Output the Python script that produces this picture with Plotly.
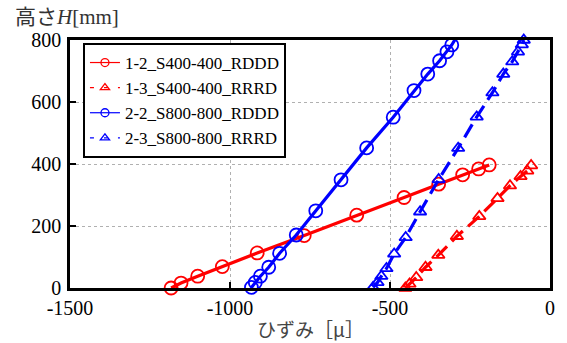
import plotly.graph_objects as go

# Strain (micro) vs. height H (mm) for each specimen
s12_strain = [-1184, -1153, -1101, -1024, -915, -768, -604, -456, -348, -273, -223, -190]
s12_height = [0, 16, 38, 69, 113, 169, 235, 292, 335, 365, 384, 397]

s13_strain = [-452, -439, -418, -389, -349, -291, -221, -164, -125, -92, -71, -59]
s13_height = [0, 13, 34, 67, 106, 167, 231, 289, 330, 360, 378, 395]

s22_strain = [-933, -921, -905, -879, -845, -793, -732, -653, -573, -490, -425, -382, -345, -322, -307, -297]
s22_height = [2, 18, 38, 67, 112, 171, 249, 349, 452, 551, 637, 690, 733, 762, 784, 801]

s23_strain = [-553, -539, -527, -511, -487, -451, -406, -348, -287, -229, -180, -146, -118, -100, -88, -82]
s23_height = [2, 18, 38, 63, 110, 163, 246, 350, 451, 552, 630, 690, 730, 762, 785, 800]

names = ["1-2_S400-400_RDDD", "1-3_S400-400_RRRD", "2-2_S800-800_RDDD", "2-3_S800-800_RRRD"]

x_tickvals = [-1500, -1000, -500, 0]
x_ticktext = ["-1500", "-1000", "-500", "0"]
y_tickvals = [0, 200, 400, 600, 800]
y_ticktext = ["0", "200", "400", "600", "800"]

RED = "#ff0000"
BLUE = "#0000ff"
SERIF = "Liberation Serif"
CJK = "Liberation Serif, 'Noto Sans CJK JP'"

series = [
    (s12_strain, s12_height, names[0], RED, "circle-open", "solid", 13),
    (s13_strain, s13_height, names[1], RED, "triangle-up-open", "15px,7px", 11),
    (s22_strain, s22_height, names[2], BLUE, "circle-open", "solid", 13),
    (s23_strain, s23_height, names[3], BLUE, "triangle-up-open", "15px,7px", 11),
]

fig = go.Figure()

for xs, ys, name, color, symbol, dash, size in series:
    fig.add_trace(go.Scatter(
        x=xs, y=ys, mode="lines+markers", name=name, showlegend=False,
        line=dict(color=color, width=3.2, dash=dash),
        marker=dict(symbol=symbol, size=size, color=color,
                    line=dict(color=color, width=1.8)),
        cliponaxis=False,
    ))

# Legend entries with smaller symbols
for xs, ys, name, color, symbol, dash, size in series:
    fig.add_trace(go.Scatter(
        x=[None], y=[None], mode="lines+markers", name=name,
        line=dict(color=color, width=1.2, dash="solid" if dash == "solid" else "4px,10px"),
        marker=dict(symbol=symbol, size=8, color=color,
                    line=dict(color=color, width=1.3)),
    ))

axis_common = dict(
    showline=True, linecolor="black", linewidth=2.6, mirror=True,
    ticks="inside", ticklen=6, tickwidth=2, tickcolor="black",
    showgrid=True, gridcolor="#b0b0b0", griddash="dot", gridwidth=1,
    zeroline=False,
    tickfont=dict(family=SERIF, size=20, color="black"),
)

fig.update_xaxes(range=[-1500, 0], tickmode="array", tickvals=x_tickvals,
                 ticktext=x_ticktext, **axis_common)
fig.update_yaxes(range=[0, 800], tickmode="array", tickvals=y_tickvals,
                 ticktext=y_ticktext, ticklabelstandoff=2, **axis_common)

fig.add_annotation(text="高さ<i>H</i>[mm]", xref="paper", yref="paper",
                   x=0, y=1, xanchor="left", yanchor="middle",
                   xshift=-57, yshift=23, showarrow=False,
                   font=dict(family=CJK, size=21, color="#333333"))
fig.add_annotation(text="ひずみ<span style=\"font-family:'Noto Sans CJK JP'\">［μ］</span>",
                   xref="paper", yref="paper",
                   x=0.5, y=0, xanchor="center", yanchor="middle",
                   yshift=-40, showarrow=False,
                   font=dict(family=CJK, size=19, color="#444444"))

fig.update_layout(
    width=567, height=343,
    margin=dict(l=70, r=14, t=40, b=55),
    paper_bgcolor="white", plot_bgcolor="white",
    font=dict(family=SERIF),
    showlegend=True,
    legend=dict(x=0.027, y=0.988, xanchor="left", yanchor="top",
                bgcolor="white", bordercolor="black", borderwidth=2,
                font=dict(family=SERIF, size=17, color="black"),
                itemwidth=30, tracegroupgap=0),
)

fig.write_html("out.html")
